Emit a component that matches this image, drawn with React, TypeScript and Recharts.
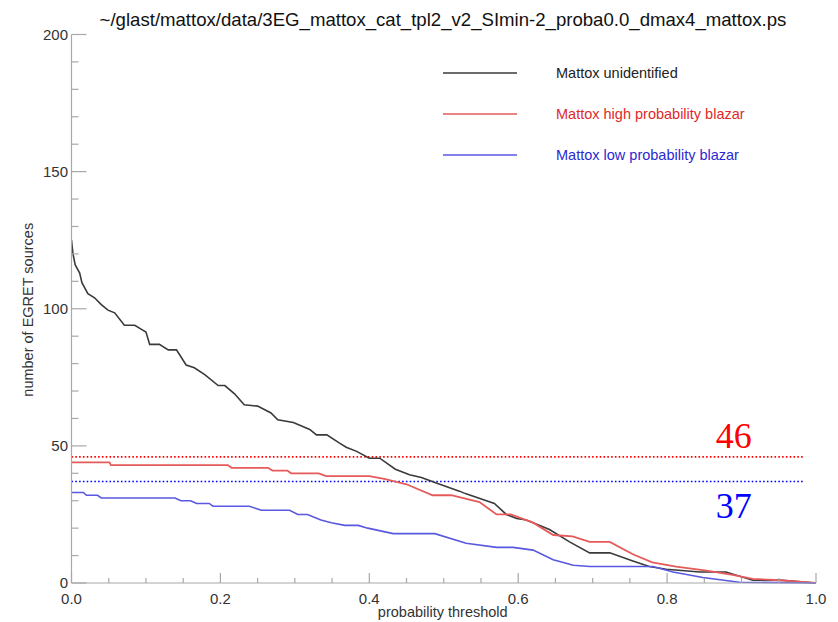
import { LineChart, Line, XAxis, YAxis, ReferenceLine, Legend } from "recharts";

const TITLE = "~/glast/mattox/data/3EG_mattox_cat_tpl2_v2_SImin-2_proba0.0_dmax4_mattox.ps";
const FONT = "'Liberation Sans', Arial, Helvetica, sans-serif";
const AXIS_COLOR = "#a8a8a8";
const TEXT_COLOR = "#333";

// probability threshold values
const unidX = [0, 0.002, 0.005, 0.011, 0.014, 0.022, 0.031, 0.04, 0.049, 0.058, 0.071, 0.085, 0.094, 0.1, 0.105, 0.118, 0.13, 0.141, 0.154, 0.165, 0.179, 0.197, 0.206, 0.219, 0.232, 0.25, 0.268, 0.277, 0.298, 0.32, 0.329, 0.343, 0.36, 0.369, 0.383, 0.4, 0.414, 0.435, 0.454, 0.47, 0.49, 0.521, 0.53, 0.568, 0.584, 0.598, 0.611, 0.642, 0.669, 0.696, 0.723, 0.754, 0.776, 0.799, 0.844, 0.879, 0.915, 0.955, 1.0];
const unidY = [125, 120, 116, 113, 109.5, 105.5, 104, 101.5, 99.5, 98.5, 94, 94, 92.5, 91.5, 87, 87, 85, 85, 79.5, 78.5, 76, 72, 72, 69, 65, 64.5, 62, 59.5, 58.5, 56, 54, 54, 51, 49.5, 48, 45.5, 45.5, 41.5, 39.5, 38.5, 36.5, 33.5, 32.5, 29, 25, 23.5, 23, 19.5, 15, 11, 11, 8, 6, 5, 4, 4, 1, 1, 0];

const highX = [0, 0.051, 0.053, 0.21, 0.215, 0.264, 0.27, 0.29, 0.295, 0.332, 0.342, 0.4, 0.42, 0.45, 0.485, 0.51, 0.548, 0.571, 0.59, 0.62, 0.647, 0.673, 0.696, 0.723, 0.754, 0.78, 0.812, 0.853, 0.888, 0.915, 0.951, 1.0];
const highY = [44, 44, 43, 43, 42, 42, 41, 41, 40, 40, 39, 39, 38, 36, 32, 32, 29.5, 25, 25, 22, 17.5, 17, 15, 15, 10.5, 7.5, 6, 4.5, 3, 1.5, 1, 0];

const lowX = [0, 0.016, 0.02, 0.035, 0.04, 0.139, 0.147, 0.16, 0.168, 0.185, 0.19, 0.239, 0.255, 0.293, 0.304, 0.317, 0.335, 0.349, 0.367, 0.385, 0.398, 0.432, 0.488, 0.53, 0.571, 0.593, 0.62, 0.647, 0.674, 0.696, 0.781, 0.808, 0.848, 0.897, 1.0];
const lowY = [33, 33, 32, 32, 31, 31, 30, 30, 29, 29, 28, 28, 26.5, 26.5, 25, 25, 23, 22, 21, 21, 20, 18, 18, 14.5, 13, 13, 12, 8.5, 6.5, 6, 6, 4, 2, 0.3, 0];

const xTicks = [0, 0.05, 0.1, 0.15, 0.2, 0.25, 0.3, 0.35, 0.4, 0.45, 0.5, 0.55, 0.6, 0.65, 0.7, 0.75, 0.8, 0.85, 0.9, 0.95, 1.0];
const yTicks = [0, 10, 20, 30, 40, 50, 60, 70, 80, 90, 100, 110, 120, 130, 140, 150, 160, 170, 180, 190, 200];

// horizontal dotted levels
const highLevel = 46;
const lowLevel = 37;
const levelEnd = 0.985;

const seriesNames = ["Mattox unidentified", "Mattox high probability blazar", "Mattox low probability blazar"];
const legendText: Record<string, string> = {
  "Mattox unidentified": "#222",
  "Mattox high probability blazar": "#e02a2a",
  "Mattox low probability blazar": "#2a2ad0",
};

const toPoints = (xs: number[], ys: number[]) => xs.map((p, i) => ({ p, v: ys[i] }));

const unidData = toPoints(unidX, unidY);
const highData = toPoints(highX, highY);
const lowData = toPoints(lowX, lowY);

const isMajorX = (v: number) => Math.abs(v * 5 - Math.round(v * 5)) < 1e-6;
const isMajorY = (v: number) => v % 50 === 0;

const XTick = ({ x, y, payload, top }: any) => {
  const major = isMajorX(payload.value);
  const len = major ? 10 : 5;
  return (
    <g>
      <line x1={x} x2={x} y1={y} y2={top ? y + len : y - len} stroke={AXIS_COLOR} strokeWidth={1.2} />
      {!top && major && (
        <text x={x} y={y + 20.5} textAnchor="middle" fontSize={15} fill={TEXT_COLOR} fontFamily={FONT}>
          {payload.value.toFixed(1)}
        </text>
      )}
    </g>
  );
};

const YTick = ({ x, y, payload, right }: any) => {
  const major = isMajorY(payload.value);
  const len = major ? 15 : 7;
  return (
    <g>
      <line x1={x} x2={right ? x - len : x + len} y1={y} y2={y} stroke={AXIS_COLOR} strokeWidth={1.2} />
      {!right && (
        <text x={x - 3.5} y={y + 5} textAnchor="end" fontSize={15} fill={TEXT_COLOR} fontFamily={FONT}>
          {major ? payload.value : ""}
        </text>
      )}
    </g>
  );
};

const LegendContent = ({ payload }: any) => {
  const items = [...(payload || [])].sort(
    (a: any, b: any) => seriesNames.indexOf(a.value) - seriesNames.indexOf(b.value)
  );
  return (
    <div style={{ fontFamily: FONT, fontSize: 14.5 }}>
      {items.map((item: any) => (
        <div key={item.value} style={{ display: "flex", alignItems: "center", height: 41 }}>
          <svg width={74} height={4}>
            <line x1={0} x2={74} y1={2} y2={2} stroke={item.color} strokeWidth={1.6} />
          </svg>
          <span style={{ marginLeft: 39, color: legendText[item.value] }}>{item.value}</span>
        </div>
      ))}
    </div>
  );
};

export default function App() {
  return (
    <div style={{ position: "relative", width: 838, height: 622, background: "#fff" }}>
      <style>{`body{margin:0}`}</style>
      <div
        style={{
          position: "absolute",
          top: 9,
          left: 0,
          width: 886,
          textAlign: "center",
          fontFamily: FONT,
          fontSize: 18.6,
          lineHeight: "21px",
          color: "#111",
          whiteSpace: "nowrap",
        }}
      >
        {TITLE}
      </div>
      <LineChart width={838} height={622} margin={{ top: 34.5, right: 22, left: 11.5, bottom: 0 }}>
        <XAxis
          type="number"
          dataKey="p"
          domain={[0, 1]}
          ticks={xTicks}
          interval={0}
          tickSize={0}
          tickMargin={0}
          height={39}
          allowDataOverflow
          axisLine={{ stroke: AXIS_COLOR, strokeWidth: 1.2 }}
          tick={<XTick />}
          label={({ viewBox }: any) => (
            <text
              x={viewBox.x + viewBox.width / 2 - 1}
              y={viewBox.y + 33.5}
              textAnchor="middle"
              fontSize={14.5}
              fill={TEXT_COLOR}
              fontFamily={FONT}
            >
              probability threshold
            </text>
          )}
        />
        <XAxis
          xAxisId="top"
          orientation="top"
          type="number"
          dataKey="p"
          domain={[0, 1]}
          ticks={xTicks}
          interval={0}
          tickSize={0}
          tickMargin={0}
          height={0}
          axisLine={{ stroke: AXIS_COLOR, strokeWidth: 1.2 }}
          tick={<XTick top />}
        />
        <YAxis
          type="number"
          domain={[0, 200]}
          ticks={yTicks}
          interval={0}
          tickSize={0}
          tickMargin={0}
          width={60}
          axisLine={{ stroke: AXIS_COLOR, strokeWidth: 1.2 }}
          tick={<YTick />}
          label={({ viewBox }: any) => {
            const cx = viewBox.x + 16;
            const cy = viewBox.y + viewBox.height / 2 + 1;
            return (
              <text
                x={cx}
                y={cy}
                transform={`rotate(-90, ${cx}, ${cy})`}
                textAnchor="middle"
                dominantBaseline="central"
                fontSize={14.5}
                fill={TEXT_COLOR}
                fontFamily={FONT}
              >
                number of EGRET sources
              </text>
            );
          }}
        />
        <YAxis
          yAxisId="right"
          orientation="right"
          type="number"
          domain={[0, 200]}
          ticks={yTicks}
          interval={0}
          tickSize={0}
          tickMargin={0}
          width={0}
          axisLine={{ stroke: AXIS_COLOR, strokeWidth: 1.2 }}
          tick={<YTick right />}
        />
        <ReferenceLine
          segment={[{ x: 0, y: highLevel }, { x: levelEnd, y: highLevel }]}
          stroke="#ff0000"
          strokeWidth={1.6}
          strokeDasharray="1.6 2.2"
          label={({ viewBox }: any) => (
            <text
              x={viewBox.x + viewBox.width - 53}
              y={viewBox.y - 9}
              textAnchor="end"
              fontSize={36}
              fill="#ff0000"
              fontFamily="'Liberation Serif', 'Times New Roman', serif"
            >
              {highLevel}
            </text>
          )}
        />
        <ReferenceLine
          segment={[{ x: 0, y: lowLevel }, { x: levelEnd, y: lowLevel }]}
          stroke="#0000ff"
          strokeWidth={1.6}
          strokeDasharray="1.6 2.2"
          label={({ viewBox }: any) => (
            <text
              x={viewBox.x + viewBox.width - 53}
              y={viewBox.y + 36}
              textAnchor="end"
              fontSize={36}
              fill="#0000ff"
              fontFamily="'Liberation Serif', 'Times New Roman', serif"
            >
              {lowLevel}
            </text>
          )}
        />
        <Line
          data={unidData}
          dataKey="v"
          name={seriesNames[0]}
          type="linear"
          stroke="#3a3a3a"
          strokeWidth={1.6}
          dot={false}
          isAnimationActive={false}
        />
        <Line
          data={highData}
          dataKey="v"
          name={seriesNames[1]}
          type="linear"
          stroke="#e65a5a"
          strokeWidth={1.8}
          dot={false}
          isAnimationActive={false}
        />
        <Line
          data={lowData}
          dataKey="v"
          name={seriesNames[2]}
          type="linear"
          stroke="#5858e0"
          strokeWidth={1.6}
          dot={false}
          isAnimationActive={false}
        />
        <Legend
          layout="vertical"
          align="center"
          verticalAlign="middle"
          content={<LegendContent />}
          wrapperStyle={{ left: 443, top: 52, width: 340 }}
        />
      </LineChart>
    </div>
  );
}
